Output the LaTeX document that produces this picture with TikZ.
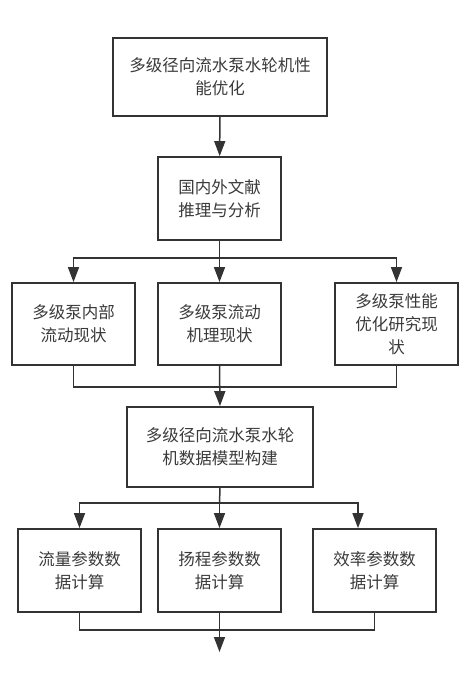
\documentclass[tikz,border=0pt]{standalone}
\usepackage{fontspec}
\setmainfont{Noto Sans CJK SC}
\usetikzlibrary{arrows.meta}
\definecolor{linegray}{HTML}{333333}
\definecolor{textgray}{HTML}{3A3A3A}

\begin{document}
\begin{tikzpicture}[x=1pt,y=-1pt,
    box/.style={draw=linegray,line width=1.8pt,align=center,text=textgray,
      font=\fontsize{16.5}{23}\selectfont,inner sep=0pt,minimum width=123pt,minimum height=82pt},
    link/.style={draw=linegray,line width=1.5pt},
    tip/.style={link,-{Triangle[length=15pt,width=11pt]}}]
  \useasboundingbox (0,0) rectangle (469,686);
  % top
  \node[box,minimum width=214pt,minimum height=78pt] (goal) at (220,77) {多级径向流水泵水轮机性\\能优化};
  \node[box,minimum height=83pt] (review) at (219.5,198.5) {国内外文献\\推理与分析};
  % status row
  \node[box] (inner) at (73.5,324) {多级泵内部\\流动现状};
  \node[box] (mech) at (219.5,324) {多级泵流动\\机理现状};
  \node[box] (optim) at (396.5,324) {多级泵性能\\优化研究现\\状};
  % model
  \node[box,minimum width=186pt,minimum height=80pt] (model) at (220,447) {多级径向流水泵水轮\\机数据模型构建};
  % calculation row
  \node[box,minimum height=83pt] (flow) at (79.5,570.5) {流量参数数\\据计算};
  \node[box,minimum height=83pt] (head) at (219.5,570.5) {扬程参数数\\据计算};
  \node[box,minimum height=83pt] (eff) at (374.5,570.5) {效率参数数\\据计算};
  \coordinate (out) at (219.5,652);

  \draw[tip] (goal) -- (review);
  \draw[link] (review.south) -- (219.5,258);
  \draw[tip] (219.5,258) -| (inner.north);
  \draw[tip] (219.5,258) -| (optim.north);
  \draw[tip] (219.5,258) -- (mech.north);
  \draw[link] (inner.south) |- (219.5,387) -| (optim.south);
  \draw[tip] (mech.south) -- (model.north);
  \draw[link] (model.south) -- (219.5,503);
  \draw[tip] (219.5,503) -| (flow.north);
  \draw[tip] (219.5,503) -| ([xshift=-16.5pt]eff.north);
  \draw[tip] (219.5,503) -- (head.north);
  \draw[link] (flow.south) |- (219.5,630) -| (eff.south);
  \draw[tip] (head.south) -- (out);
\end{tikzpicture}
\end{document}
